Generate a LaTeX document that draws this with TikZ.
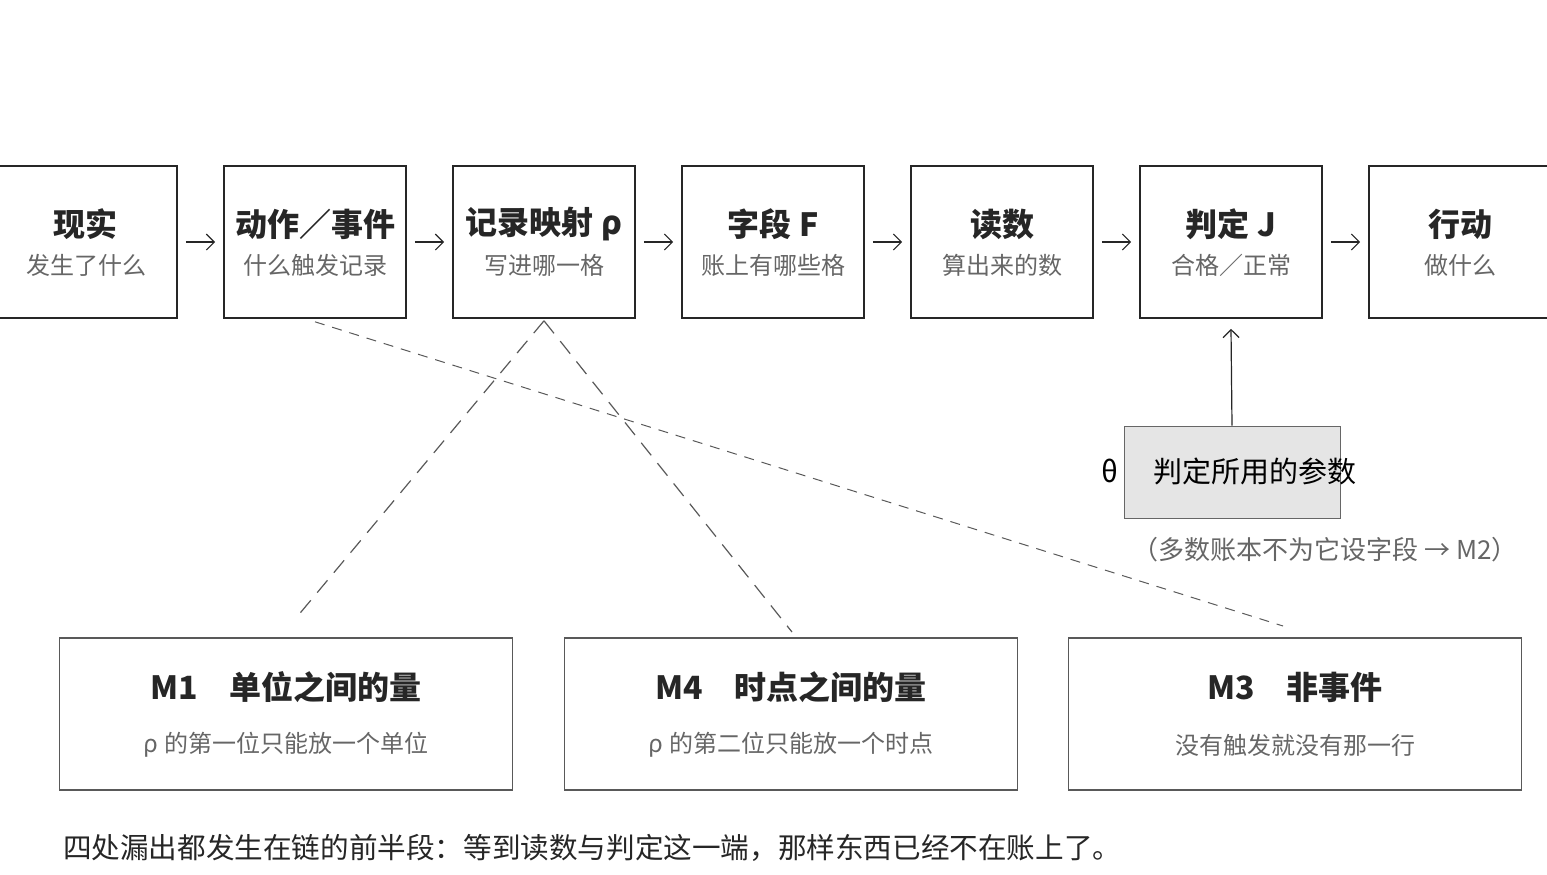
\documentclass[tikz,border=0pt]{standalone}
\usepackage{fontspec}
\usetikzlibrary{arrows.meta}
\setmainfont{Noto Sans CJK SC}
\begin{document}
\begin{tikzpicture}[x=0.5pt,y=-0.5pt,
 box/.style={draw=black!85,line width=0.8pt,minimum width=91pt,minimum height=76pt,inner sep=0},
 bbox/.style={draw=black!65,line width=0.7pt,minimum width=226.5pt,minimum height=76pt,inner sep=0},
 ttl/.style={font=\fontsize{16}{18}\selectfont\bfseries,text=black!85},
 sub/.style={font=\fontsize{12}{14}\selectfont,text=black!60},
 arr/.style={-{Straight Barb[length=4pt,width=8pt]},line width=0.6pt,black!85}]
\useasboundingbox (0,0) rectangle (1547,874);
\foreach \n/\x/\t/\s in {a/86/现实/发生了什么,b/315/动作／事件/什么触发记录,c/544/记录映射 ρ/写进哪一格,d/773/字段 F/账上有哪些格,e/1002/读数/算出来的数,f/1231/判定 J/合格／正常,g/1460/行动/做什么}{
 \node[box] (\n) at (\x,242) {};
 \node[ttl] (\n t) at (\x,224) {\t};
 \node[sub] (\n s) at (\x,265) {\s};
}
\foreach \p/\q in {a/b,b/c,c/d,d/e,e/f,f/g}{\draw[arr] ([xshift=4pt]\p.east) -- ([xshift=-4pt]\q.west);}
\node[draw=black!60,fill=gray!20,minimum width=108pt,minimum height=46pt,inner sep=0] (th) at (1232,472) {};
\node[font=\fontsize{14.5}{16}\selectfont] (tht) at (1255,471) {判定所用的参数};
\node[font=\fontsize{14.5}{16}\selectfont] (thl) at (1110,471) {θ};
\draw[arr] (th.north) -- ([yshift=-5pt]f.south);
\node[sub,font=\fontsize{13}{15}\selectfont] (note) at (1325,550) {（多数账本不为它设字段 → M2）};
\foreach \n/\x/\t/\s in {m1/286/M1\quad 单位之间的量/ρ 的第一位只能放一个单位,m4/791/M4\quad 时点之间的量/ρ 的第二位只能放一个时点,m3/1295/M3\quad 非事件/没有触发就没有那一行}{
 \node[bbox] (\n) at (\x,714) {};
 \node[ttl] (\n t) at (\x,687) {\t};
 \node[sub] (\n s) at (\x,745) {\s};
}
\coordinate (c1) at (296,618); \coordinate (c2) at (792,632); \coordinate (c3) at (1283,626);
\draw[black!65,line width=0.6pt,dash pattern=on 8pt off 5pt] ([yshift=-1pt]c.south) -- (c1);
\draw[black!65,line width=0.6pt,dash pattern=on 8pt off 5pt] ([yshift=-1pt]c.south) -- (c2);
\draw[black!65,line width=0.5pt,dash pattern=on 5pt off 4pt] ([yshift=-1.5pt]b.south) -- (c3);
\node[anchor=west,font=\fontsize{14.3}{16}\selectfont,text=black!85] (cap) at (56,848) {四处漏出都发生在链的前半段：等到读数与判定这一端，那样东西已经不在账上了。};
\end{tikzpicture}
\end{document}
